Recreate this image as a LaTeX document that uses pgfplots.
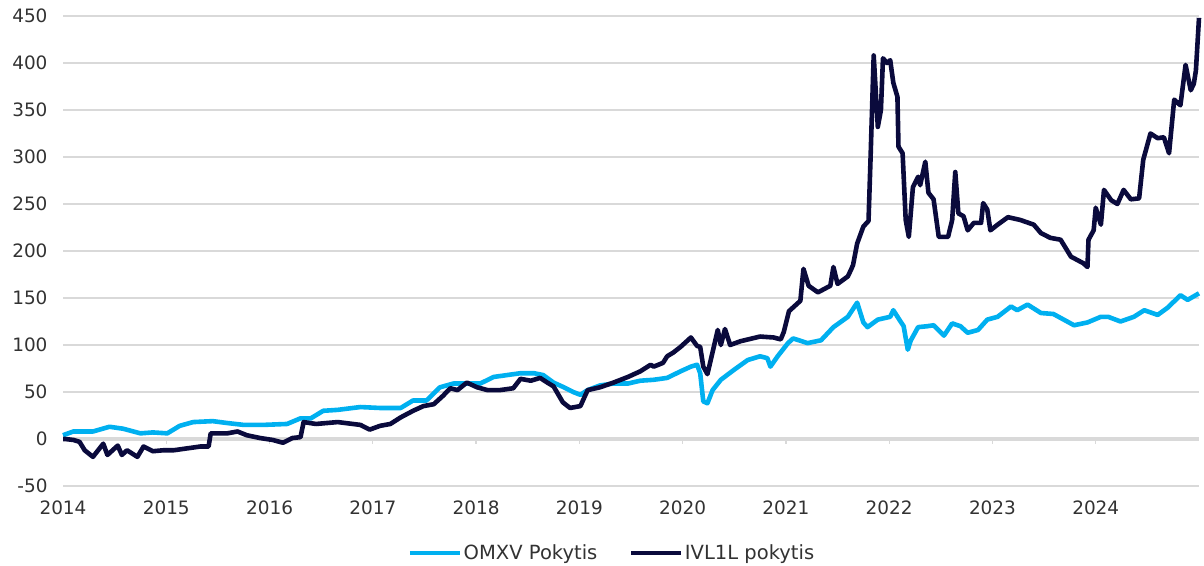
\documentclass[border=0pt]{standalone}
\usepackage{pgfplots}
\pgfplotsset{compat=1.18}
\usepackage{fontspec}
\setmainfont{DejaVu Sans}
\definecolor{omxv}{RGB}{0,176,240}
\definecolor{ivl}{RGB}{10,10,60}
\definecolor{gridc}{RGB}{217,217,217}
\definecolor{txt}{RGB}{50,50,50}
\begin{document}
\begin{tikzpicture}
\useasboundingbox (0,0) rectangle (1204bp,566bp);
\begin{axis}[
  at={(63bp,80bp)}, anchor=south west,
  scale only axis, width=1136bp, height=470bp,
  xmin=2014, xmax=2025, ymin=-50, ymax=450,
  xtick={2014,2015,2016,2017,2018,2019,2020,2021,2022,2023,2024},
  xticklabels={2014,2015,2016,2017,2018,2019,2020,2021,2022,2023,2024},
  ytick={-50,0,50,100,150,200,250,300,350,400,450},
  yticklabels={-50,0,50,100,150,200,250,300,350,400,450},
  axis line style={draw=none}, major tick length=0pt,
  ymajorgrids, grid style={gridc, line width=1.6bp},
  tick label style={font=\fontsize{18.5}{22}\selectfont, text=txt},
  xticklabel style={yshift=-11bp},
  yticklabel style={xshift=-12bp},
  clip=false,
  legend style={at={(0.483,-0.1426)}, anchor=center, draw=none, fill=none,
    legend columns=2, font=\fontsize{19.6}{23}\selectfont, text=txt,
    /tikz/every even column/.append style={column sep=30bp},
    inner sep=0pt, nodes={inner sep=1.5bp}},
  legend image code/.code={\draw[#1] (0bp,0bp) -- (50bp,0bp);},
]
\draw[gridc, line width=4bp] (axis cs:2014,0) -- (axis cs:2025,0);
\pgfplotsinvokeforeach{2015,2016,2017,2018,2019,2020,2021,2022,2023,2024}{
  \draw[gridc, line width=1.2bp] (axis cs:#1,0) -- ++(0bp,-5bp);
}
\addplot[omxv, line width=4.6bp, line join=round] table {
2014.00 4
2014.10 8
2014.21 8
2014.29 8
2014.45 13
2014.58 11
2014.75 6
2014.87 7
2015.01 6
2015.13 14
2015.26 18
2015.45 19
2015.59 17
2015.75 15
2015.94 15
2016.17 16
2016.30 22
2016.40 22
2016.52 30
2016.66 31
2016.88 34
2017.07 33
2017.27 33
2017.39 41
2017.52 41
2017.65 55
2017.78 59
2017.91 59
2018.04 59
2018.17 66
2018.30 68
2018.43 70
2018.56 70
2018.65 68
2018.75 60
2018.85 55
2018.94 50
2019.01 47
2019.08 52
2019.20 57
2019.33 59
2019.47 59
2019.59 62
2019.72 63
2019.85 65
2019.98 72
2020.08 77
2020.14 79
2020.17 70
2020.20 40
2020.24 38
2020.29 52
2020.37 63
2020.49 73
2020.63 84
2020.75 88
2020.82 86
2020.85 77
2020.92 88
2021.02 102
2021.07 107
2021.21 102
2021.34 105
2021.46 119
2021.60 130
2021.69 145
2021.75 124
2021.79 119
2021.89 127
2022.01 130
2022.04 137
2022.11 125
2022.14 120
2022.18 95
2022.21 105
2022.28 119
2022.37 120
2022.43 121
2022.53 110
2022.61 123
2022.69 120
2022.76 113
2022.86 116
2022.95 127
2023.05 130
2023.18 141
2023.24 137
2023.34 143
2023.47 134
2023.59 133
2023.69 127
2023.79 121
2023.92 124
2024.05 130
2024.12 130
2024.24 125
2024.37 130
2024.47 137
2024.60 132
2024.70 140
2024.82 153
2024.89 148
2025.00 155
};
\addlegendentry{OMXV Pokytis}
\addplot[ivl, line width=4.6bp, line join=round] table {
2014.00 0
2014.02 0
2014.10 -1
2014.16 -3
2014.21 -12
2014.29 -19
2014.39 -5
2014.43 -17
2014.53 -7
2014.57 -17
2014.62 -12
2014.72 -19
2014.78 -8
2014.87 -13
2014.97 -12
2015.07 -12
2015.20 -10
2015.33 -8
2015.41 -8
2015.43 6
2015.59 6
2015.69 8
2015.78 4
2015.91 1
2016.03 -1
2016.13 -4
2016.22 1
2016.30 2
2016.33 18
2016.45 16
2016.66 18
2016.88 15
2016.97 10
2017.07 14
2017.17 16
2017.27 23
2017.39 30
2017.49 35
2017.59 37
2017.68 46
2017.75 54
2017.82 52
2017.91 60
2018.01 55
2018.11 52
2018.23 52
2018.36 54
2018.43 64
2018.53 62
2018.62 65
2018.69 60
2018.75 56
2018.84 39
2018.91 33
2019.01 35
2019.08 52
2019.20 55
2019.33 60
2019.40 63
2019.47 66
2019.59 72
2019.69 79
2019.72 77
2019.81 81
2019.85 88
2019.91 92
2019.98 98
2020.01 101
2020.08 108
2020.14 99
2020.17 98
2020.20 77
2020.24 69
2020.27 83
2020.34 116
2020.37 100
2020.41 117
2020.46 100
2020.56 104
2020.75 109
2020.88 108
2020.95 106
2020.98 114
2021.03 136
2021.14 147
2021.17 181
2021.22 163
2021.31 156
2021.43 163
2021.46 183
2021.50 165
2021.60 173
2021.63 180
2021.65 185
2021.69 208
2021.75 226
2021.80 232
2021.82 300
2021.85 408
2021.89 332
2021.92 350
2021.94 405
2021.98 400
2022.01 403
2022.04 379
2022.08 364
2022.09 311
2022.13 304
2022.16 233
2022.19 215
2022.23 268
2022.28 279
2022.30 270
2022.35 295
2022.38 262
2022.43 255
2022.48 215
2022.57 215
2022.61 233
2022.64 284
2022.67 240
2022.72 237
2022.76 222
2022.82 230
2022.89 230
2022.91 251
2022.95 244
2022.98 222
2023.05 228
2023.15 236
2023.27 233
2023.40 228
2023.47 219
2023.56 214
2023.66 212
2023.76 194
2023.88 187
2023.92 183
2023.93 212
2023.98 222
2024.00 246
2024.05 228
2024.08 265
2024.15 254
2024.21 250
2024.27 265
2024.34 255
2024.42 256
2024.46 297
2024.53 325
2024.60 320
2024.66 321
2024.71 304
2024.76 361
2024.82 355
2024.87 398
2024.92 371
2024.95 378
2024.97 392
2025.00 448
};
\addlegendentry{IVL1L pokytis}
\end{axis}
\end{tikzpicture}
\end{document}
